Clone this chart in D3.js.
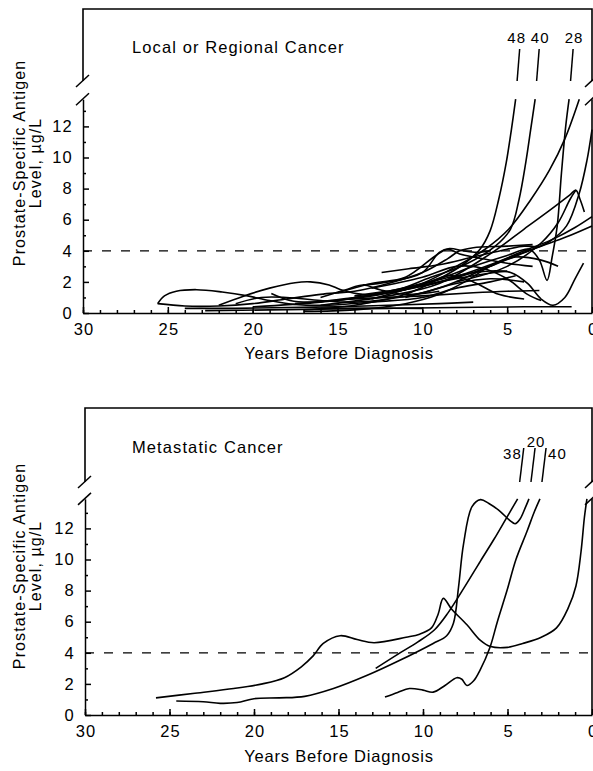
<!DOCTYPE html>
<html>
<head>
<meta charset="utf-8">
<script src="https://cdn.jsdelivr.net/npm/d3@7"></script>
<style>
  body { margin: 0; background: #fff; }
  text { font-family: "Liberation Sans", Arial, Helvetica, sans-serif; fill: #000; }
</style>
</head>
<body>
<div id="chart"></div>
<script>
// ---- data (years before diagnosis, PSA in ug/L) ----
const majorYears = [30, 25, 20, 15, 10, 5, 0];
const minorYears = d3.range(0, 31);
const psaTicks = [0, 2, 4, 6, 8, 10, 12];
const psaMinor = [1, 3, 5, 7, 9, 11, 13];
const cutoff = 4;

// local or regional cancer, first three run off the scale
const localCurves = [
  [[17,0.2],[14,0.5],[11,1.2],[9,2.2],[7.5,3.2],[6.6,4.1],[6.0,5.3],[5.5,7.3],[5.05,9.7],[4.75,11.8],[4.5,13.75]],
  [[20,0.4],[16,0.7],[12,1.3],[9.5,2.3],[7.5,3.1],[5.7,4.3],[4.8,5.4],[4.3,7.3],[3.9,9.7],[3.6,11.9],[3.35,13.75]],
  [[15,0.8],[12,1.4],[9,2.2],[7,3.0],[5,3.7],[3.7,4.1],[3.1,3.4],[2.65,2.1],[2.35,3.6],[2.05,5.6],[1.8,9.0],[1.55,12],[1.35,13.75]],
  [[13,0.9],[10,1.9],[8,3.0],[6.3,4.1],[4.9,5.4],[3.6,7.3],[2.5,9.2],[1.6,11.2],[0.75,13.75]],
  [[11,1.0],[8.5,1.8],[6,3.0],[3.5,4.1],[2.5,4.6],[1.5,5.6],[0.75,7.7],[0.3,9.8],[0,11.8]],
  [[16,0.5],[12,1.1],[9,1.9],[6,3.8],[4,5.4],[2.5,6.6],[1.3,7.6],[0.95,7.9],[0.7,7.3],[0.45,6.5]],
  [[8,2.0],[5,3.0],[3,4.5],[2,5.8],[1.3,7.3],[0.95,7.9]],
  [[12,1.3],[9,2.0],[6,3.1],[4,4.0],[2.2,4.8],[1.0,5.5],[0,6.2]],
  [[10,1.7],[7,2.6],[5,3.5],[3,4.3],[1.5,4.9],[0,5.6]],
  [[14,1.1],[11,1.6],[8,2.4],[6,2.7],[4.8,2.6],[3.8,1.9],[3,0.9],[2.3,0.5],[1.6,1.0],[1.0,2.2],[0.5,3.2]],
  [[17.5,0.6],[14,0.9],[10,1.1],[7,1.3],[5,1.4],[3.1,1.45]],
  [[16,0.3],[12,0.3],[8,0.35],[4,0.4],[1.2,0.4]],
  [[12.4,2.6],[10.8,2.85],[9,3.1],[7,3.6],[5,4.1],[4,4.3],[3.3,4.25]],
  [[22,0.5],[20.5,1.1],[19,1.6],[17.5,1.95],[16.6,2.0],[15.5,1.8],[14.8,1.5],[13.5,1.2],[12,1.3],[10,1.8],[8.5,2.4],[7,2.0],[5.5,1.2],[4,0.9]],
  [[13,1.6],[10,2.3],[8,3.0],[6.5,2.9],[5,2.2],[3.8,1.2],[3,0.8]],
  [[25.6,0.6],[25.2,1.1],[24.5,1.4],[23.3,1.5],[21.8,1.35],[20.3,1.1],[19,0.8],[17.5,0.55],[15.5,0.5],[13,0.7],[10,1.0],[8,1.6],[6,2.0],[4.5,2.4]],
  [[25.6,0.6],[24,0.45],[22,0.45],[20,0.6],[18,0.9],[16,1.2],[14,1.4],[12,1.9],[10,2.6],[8.5,3.5],[7.8,4.0],[7,4.2],[5,4.3],[3.5,4.4]],
  [[18.9,1.25],[17.8,0.8],[16.5,0.7],[14,1.0],[11,1.5],[9,2.0],[7,2.4],[5,2.7]],
  [[24,0.3],[21,0.3],[18,0.35],[15,0.4],[12,0.5],[9,0.6],[7,0.7]],
  [[22.8,0.15],[19,0.2],[16,0.25],[13,0.3],[10,0.3]],
  [[21,0.6],[19.5,1.0],[18,1.0],[16,0.8],[14,0.7],[12,0.9],[10,1.3],[8,1.9],[6,2.2],[4,2.0]],
  [[17,0.1],[14,0.2],[11,0.6],[9,1.2],[7.5,2.0],[6,3.0],[4.5,3.6],[3,3.4],[2,3.0]],
  [[15,1.3],[13,1.9],[11,2.3],[9.2,3.7],[8.5,4.1],[7.8,3.8],[6.5,3.5],[5,3.2],[3.5,3.0]],
  [[13.5,1.8],[12,2.0],[10,2.6],[9,3.9],[8.4,4.15],[7.6,4.0],[6.8,3.9],[6,4.0]],
  [[16,1.0],[14.5,1.5],[13.5,1.8],[12.5,1.5],[11,1.2],[9,1.4]]
];
const localLabels = ["48", "40", "28"];   // final values of curves 0..2

// metastatic cancer
const metaCurves = [
  [[12.8,3.0],[11.5,3.9],[10.3,4.7],[9.3,5.5],[8.5,6.6],[7.5,8.3],[6.6,9.9],[5.8,11.3],[5.1,12.6],[4.4,13.9]],
  [[24.6,0.9],[23,0.85],[22,0.75],[21,0.8],[20,1.05],[18.5,1.1],[17,1.2],[15.3,1.7],[13.3,2.55],[11.4,3.5],[9.4,4.6],[8.6,5.1],[8.2,5.9],[7.9,8.2],[7.6,11],[7.1,13.4],[6.6,13.85],[6.1,13.6],[5.44,13.1],[4.85,12.5],[4.55,12.3],[4.26,12.6],[3.96,13.3],[3.73,13.9]],
  [[12.25,1.15],[11.5,1.45],[10.8,1.7],[10,1.6],[9.4,1.47],[8.7,1.9],[8.0,2.4],[7.7,2.3],[7.4,1.9],[7.0,2.2],[6.63,2.87],[6.04,4.34],[5.6,6.0],[5.03,8.0],[4.5,10],[3.85,11.8],[3.4,13.1],[3.08,13.9]],
  [[25.8,1.1],[23.5,1.4],[21.2,1.7],[19.5,2.0],[18.2,2.4],[17.2,3.1],[16.5,3.8],[15.9,4.6],[14.9,5.1],[13.9,4.85],[12.9,4.65],[11,5.0],[10.2,5.2],[9.5,5.6],[9.1,6.5],[8.8,7.5],[8.3,6.8],[7.4,5.8],[6.6,4.8],[6.0,4.4],[5,4.35],[4.1,4.6],[3,5.0],[2.1,5.6],[1.4,6.9],[0.95,8.3],[0.65,10.5],[0.45,12.7],[0.3,13.9]]
];
const metaLabels = ["38", "20", "40"];

// ---- layout ----
const width = 593, height = 771;
const svg = d3.select("#chart").append("svg")
    .attr("width", width)
    .attr("height", height);

const panels = [
  {title: "Local or Regional Cancer", curves: localCurves, labels: localLabels,
   top: 9, breakHi: 81, bottom: 313, left: 83, right: 592, yMax: 13.75,
   titleY: 53, leaderLen: 32, lean: 0.08, yTitleCY: 163, xTitleY: 359,
   place: [{anchor: "middle", dx: -3, dy: -6}, {anchor: "middle", dx: 1, dy: -6}, {anchor: "middle", dx: 1, dy: -6}]},
  {title: "Metastatic Cancer", curves: metaCurves, labels: metaLabels,
   top: 408, breakHi: 482, bottom: 715, left: 85, right: 592, yMax: 13.9,
   titleY: 453, leaderLen: 34, lean: 0.12, yTitleCY: 566, xTitleY: 762,
   place: [{anchor: "end", dx: -2, dy: 11}, {anchor: "middle", dx: 1, dy: -1}, {anchor: "start", dx: 2, dy: 11}]}
];

panels.forEach(drawPanel);

function drawPanel(p) {
    let x = d3.scaleLinear().domain([30, 0]).range([p.left, p.right]);
    let y = d3.scaleLinear().domain([0, p.yMax]).range([p.bottom, p.bottom - 15.55 * p.yMax]);
    let breakLo = y(p.yMax);
    let g = svg.append("g");

    // frame above the break
    g.append("path")
        .attr("d", `M${p.left},${p.breakHi}V${p.top}H${p.right}V${p.breakHi}`)
        .attr("fill", "none")
        .attr("stroke", "#000")
        .attr("stroke-width", 1.6);
    g.append("line")
        .attr("x1", p.right).attr("x2", p.right)
        .attr("y1", breakLo).attr("y2", p.bottom)
        .attr("stroke", "#000").attr("stroke-width", 1.6);

    // break marks
    [p.left, p.right].forEach(function(cx) {
        [p.breakHi, breakLo].forEach(function(cy) {
            g.append("line")
                .attr("x1", cx - 7).attr("y1", cy + 6)
                .attr("x2", cx + 6).attr("y2", cy - 6)
                .attr("stroke", "#000").attr("stroke-width", 1.5);
        });
    });

    // x axis
    let xAxis = g.append("g")
        .attr("transform", `translate(0, ${p.bottom})`)
        .call(d3.axisBottom(x).tickValues(majorYears).tickSize(-6).tickSizeOuter(0).tickPadding(10));
    let xMinor = g.append("g")
        .attr("transform", `translate(0, ${p.bottom})`)
        .call(d3.axisBottom(x).tickValues(minorYears).tickSize(-3).tickFormat(""));
    xMinor.select(".domain").remove();

    // y axis
    let yAxis = g.append("g")
        .attr("transform", `translate(${p.left}, 0)`)
        .call(d3.axisLeft(y).tickValues(psaTicks).tickSize(-6).tickSizeOuter(0).tickPadding(10));
    let yMinor = g.append("g")
        .attr("transform", `translate(${p.left}, 0)`)
        .call(d3.axisLeft(y).tickValues(psaMinor).tickSize(-3).tickFormat(""));
    yMinor.select(".domain").remove();

    [xAxis, xMinor, yAxis, yMinor].forEach(function(a) {
        a.selectAll("path, line").attr("stroke", "#000").attr("stroke-width", 1.5);
        a.selectAll("text")
            .style("font-size", "16.5px")
            .style("letter-spacing", "1.2px")
            .attr("fill", "#000");
    });
    xAxis.selectAll("text").attr("dx", "0.6px");

    // 4 ug/L cutoff
    g.append("line")
        .attr("x1", x(30)).attr("x2", x(0))
        .attr("y1", y(cutoff)).attr("y2", y(cutoff))
        .attr("stroke", "#000")
        .attr("stroke-width", 1.3)
        .attr("stroke-dasharray", "9,10");

    // curves
    let line = d3.line()
        .x(function(d) { return x(d[0]); })
        .y(function(d) { return y(d[1]); })
        .curve(d3.curveCatmullRom.alpha(0.5));

    g.selectAll(".curve")
        .data(p.curves)
        .enter()
        .append("path")
        .attr("class", "curve")
        .attr("d", line)
        .attr("fill", "none")
        .attr("stroke", "#000")
        .attr("stroke-width", 1.6)
        .attr("stroke-linejoin", "round");

    // leaders across the break to the final values
    p.labels.forEach(function(label, i) {
        let last = p.curves[i][p.curves[i].length - 1];
        let x0 = x(last[0]), y0 = y(last[1]);
        let xa = x0 + p.lean * (y0 - p.breakHi);
        let xb = x0 + p.lean * (y0 - p.breakHi + p.leaderLen);
        let yb = p.breakHi - p.leaderLen;
        g.append("line")
            .attr("x1", xa).attr("y1", p.breakHi)
            .attr("x2", xb).attr("y2", yb)
            .attr("stroke", "#000").attr("stroke-width", 1.5);
        let pl = p.place[i];
        g.append("text")
            .attr("x", xb + pl.dx)
            .attr("y", yb + pl.dy)
            .style("text-anchor", pl.anchor)
            .style("font-size", "15px")
            .style("letter-spacing", "1px")
            .text(label);
    });

    // titles
    g.append("text")
        .attr("x", 132)
        .attr("y", p.titleY)
        .style("font-size", "16.5px")
        .style("letter-spacing", "1.1px")
        .text(p.title);

    g.append("text")
        .attr("transform", `translate(339, ${p.xTitleY})`)
        .style("text-anchor", "middle")
        .style("font-size", "16.5px")
        .style("letter-spacing", "0.8px")
        .text("Years Before Diagnosis");

    g.append("text")
        .attr("transform", `translate(25, ${p.yTitleCY}) rotate(-90)`)
        .style("text-anchor", "middle")
        .style("font-size", "16px")
        .style("letter-spacing", "1.1px")
        .text("Prostate-Specific Antigen");
    g.append("text")
        .attr("transform", `translate(41, ${p.yTitleCY}) rotate(-90)`)
        .style("text-anchor", "middle")
        .style("font-size", "16px")
        .style("letter-spacing", "1.1px")
        .text("Level, \u00b5g/L");
}
</script>
</body>
</html>
